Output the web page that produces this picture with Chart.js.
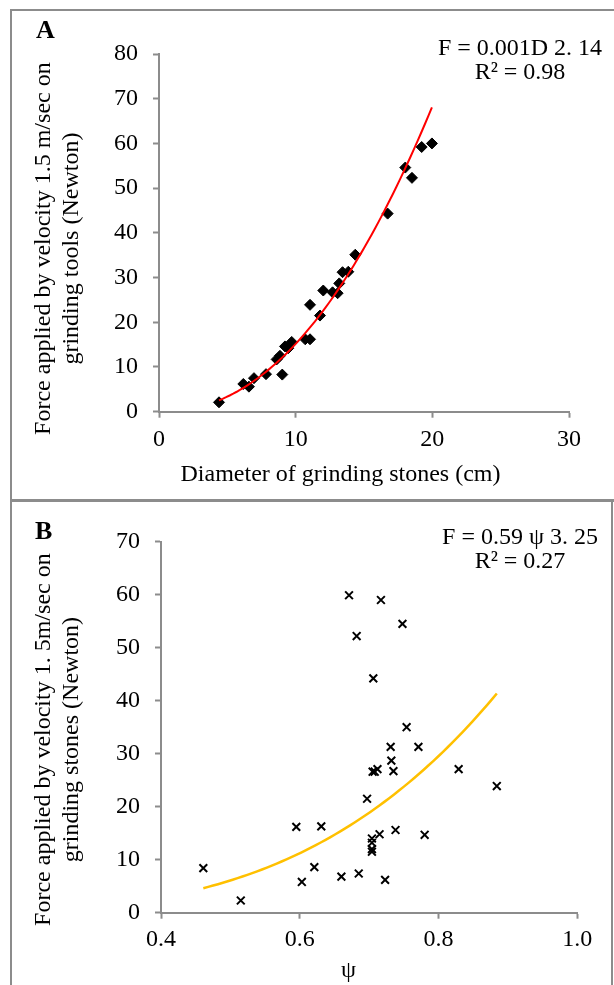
<!DOCTYPE html>
<html lang="en">
<head>
<meta charset="UTF-8">
<title>Force vs diameter and sphericity</title>
<script src="https://cdn.jsdelivr.net/npm/chart.js"></script>
<style>
    body{
        margin: 0;
        background: #fff;
    }
    .page{
        position: relative;
        width: 614px;
        height: 985px;
        overflow: hidden;
        font-family: "Liberation Serif", serif;
        color: #000;
    }
    .line{
        position: absolute;
        background: #8c8c8c;
    }
    .letter{
        position: absolute;
        font-size: 26px;
        font-weight: bold;
        line-height: 1;
    }
    .eq{
        position: absolute;
        left: 420px;
        width: 200px;
        text-align: center;
        font-size: 24px;
        line-height: 24px;
    }
    .xtitle{
        position: absolute;
        width: 400px;
        text-align: center;
        font-size: 24px;
        line-height: 1;
        white-space: nowrap;
    }
    .ytitle{
        position: absolute;
        left: -193.3px;
        width: 500px;
        height: 55.2px;
        text-align: center;
        font-size: 24px;
        line-height: 27.6px;
        white-space: nowrap;
        transform: rotate(-90deg);
    }
    #chartA{
        position: absolute;
        left: 0;
        top: 0;
    }
    #chartB{
        position: absolute;
        left: 0;
        top: 500px;
    }
</style>
</head>
<body>
<div class="page">
    <canvas id="chartA" width="614" height="500"></canvas>
    <canvas id="chartB" width="614" height="485"></canvas>

    <div class="line" style="left:10px;top:9px;width:604px;height:2px"></div>
    <div class="line" style="left:10px;top:9px;width:2px;height:976px"></div>
    <div class="line" style="left:10px;top:499px;width:604px;height:3px"></div>
    <div class="line" style="left:611px;top:502px;width:2px;height:483px"></div>

    <div class="letter" style="left:36px;top:17px">A</div>
    <div class="letter" style="left:35px;top:518px">B</div>

    <div class="eq" style="top:35px">F = 0.001D 2. 14<br>R² = 0.98</div>
    <div class="eq" style="top:524px">F = 0.59 ψ 3. 25<br>R² = 0.27</div>

    <div class="ytitle" id="ytitleA" style="top:221.4px"></div>
    <div class="ytitle" id="ytitleB" style="top:712.4px"></div>
    <div class="xtitle" id="xtitleA" style="left:140.5px;top:461px"></div>
    <div class="xtitle" id="xtitleB" style="left:148.5px;top:957px"></div>
</div>
<script>
// panel A: diameter of grinding stones (cm) vs force (N)
const diamA = [4.39, 6.17, 6.58, 6.95, 7.83, 8.61, 8.85, 9.02, 9.22, 9.46, 9.71, 10.7, 11.05, 11.05,
    11.78, 12.02, 12.7, 13.07, 13.19, 13.43, 13.85, 14.36, 16.73, 18.02, 18.51, 19.22, 19.97];
const forceA = [2.1, 6.2, 5.6, 7.5, 8.4, 11.7, 12.5, 8.3, 14.6, 14.2, 15.6, 16.2, 16.2, 23.9,
    21.5, 27.1, 26.7, 26.5, 28.7, 31.2, 31.3, 35.1, 44.3, 54.6, 52.3, 59.2, 60.0];

// panel B: sphericity psi vs force (N)
const psiB = [0.461, 0.515, 0.595, 0.603, 0.621, 0.631, 0.660, 0.685, 0.697, 0.704, 0.704, 0.704,
    0.704, 0.715, 0.705, 0.708, 0.712, 0.723, 0.731, 0.732, 0.735, 0.738, 0.754, 0.771, 0.780,
    0.829, 0.884, 0.671, 0.717, 0.748, 0.682, 0.706];
const forceB = [8.4, 2.3, 16.2, 5.8, 8.6, 16.3, 6.8, 7.4, 21.5, 14.0, 13.2, 12.0,
    11.5, 14.8, 26.6, 26.6, 27.1, 6.2, 31.3, 28.7, 26.7, 15.6, 35.0, 31.3, 14.7,
    27.1, 23.9, 59.9, 59.0, 54.5, 52.2, 44.2];

const titleA = ['Force applied by velocity 1.5 m/sec on', 'grinding tools (Newton)'];
const titleB = ['Force applied by velocity 1. 5m/sec on', 'grinding stones (Newton)'];
const xTitleA = 'Diameter of grinding stones (cm)';
const xTitleB = 'ψ';

document.getElementById('ytitleA').innerHTML = titleA.join('<br>');
document.getElementById('ytitleB').innerHTML = titleB.join('<br>');
document.getElementById('xtitleA').textContent = xTitleA;
document.getElementById('xtitleB').textContent = xTitleB;

const FONT = 'Liberation Serif';
const GRAY = '#8c8c8c';

// power trendline (like excel): least squares on log-log
function powerFit(xs, ys){
    let n = xs.length, sx = 0, sy = 0, sxx = 0, sxy = 0;
    for(let i = 0; i < n; i++){
        let lx = Math.log(xs[i]), ly = Math.log(ys[i]);
        sx += lx; sy += ly; sxx += lx * lx; sxy += lx * ly;
    }
    let b = (n * sxy - sx * sy) / (n * sxx - sx * sx);
    let a = Math.exp((sy - b * sx) / n);
    return {a, b};
}
function trend(xs, ys){
    const f = powerFit(xs, ys);
    const lo = Math.min(...xs), hi = Math.max(...xs);
    let pts = [];
    for(let i = 0; i <= 60; i++){
        let x = lo + (hi - lo) * i / 60;
        pts.push({x: x, y: f.a * Math.pow(x, f.b)});
    }
    return pts;
}
function points(xs, ys){
    return xs.map((x, i) => ({x: x, y: ys[i]}));
}

function xAxis(min, max, step, pad, height, digits){
    return {
        type: 'linear', min: min, max: max,
        ticks: {stepSize: step, color: '#000', font: {family: FONT, size: 24}, padding: pad,
            callback: v => v.toFixed(digits)},
        grid: {drawOnChartArea: false, tickLength: 6, tickColor: GRAY, tickWidth: 2},
        border: {color: GRAY, width: 2},
        afterFit: s => { s.height = height; }
    };
}
function yAxis(max, width){
    return {
        type: 'linear', min: 0, max: max,
        ticks: {stepSize: 10, color: '#000', font: {family: FONT, size: 24}, padding: 15},
        grid: {drawOnChartArea: false, tickLength: 6, tickColor: GRAY, tickWidth: 2},
        border: {color: GRAY, width: 2},
        afterFit: s => { s.width = width; }
    };
}

let chartA = new Chart(document.getElementById('chartA'), {
    type: 'scatter',
    data: {
        datasets: [
            {data: trend(diamA, forceA), showLine: true, borderColor: '#ff0000', borderWidth: 2, pointRadius: 0},
            {data: points(diamA, forceA), pointStyle: 'rectRot', pointRadius: 5.5,
                backgroundColor: '#000', borderColor: '#000', borderWidth: 1}
        ]
    },
    options: {
        responsive: false,
        animation: false,
        layout: {padding: {top: 54, right: 45, left: 0, bottom: 0}},
        plugins: {legend: {display: false}, tooltip: {enabled: false}},
        scales: {
            x: xAxis(0, 30, 10, 8, 88.3, 0),
            y: yAxis(80, 159)
        }
    }
});

let chartB = new Chart(document.getElementById('chartB'), {
    type: 'scatter',
    data: {
        datasets: [
            {data: trend(psiB, forceB), showLine: true, borderColor: '#ffc000', borderWidth: 2.5, pointRadius: 0},
            {data: points(psiB, forceB), pointStyle: 'crossRot', pointRadius: 5.5,
                backgroundColor: '#000', borderColor: '#000', borderWidth: 2}
        ]
    },
    options: {
        responsive: false,
        animation: false,
        layout: {padding: {top: 41.7, right: 36.7, left: 0, bottom: 0}},
        plugins: {legend: {display: false}, tooltip: {enabled: false}},
        scales: {
            x: xAxis(0.4, 1.0, 0.2, 7, 72.3, 1),
            y: yAxis(70, 161)
        }
    }
});
</script>
</body>
</html>
